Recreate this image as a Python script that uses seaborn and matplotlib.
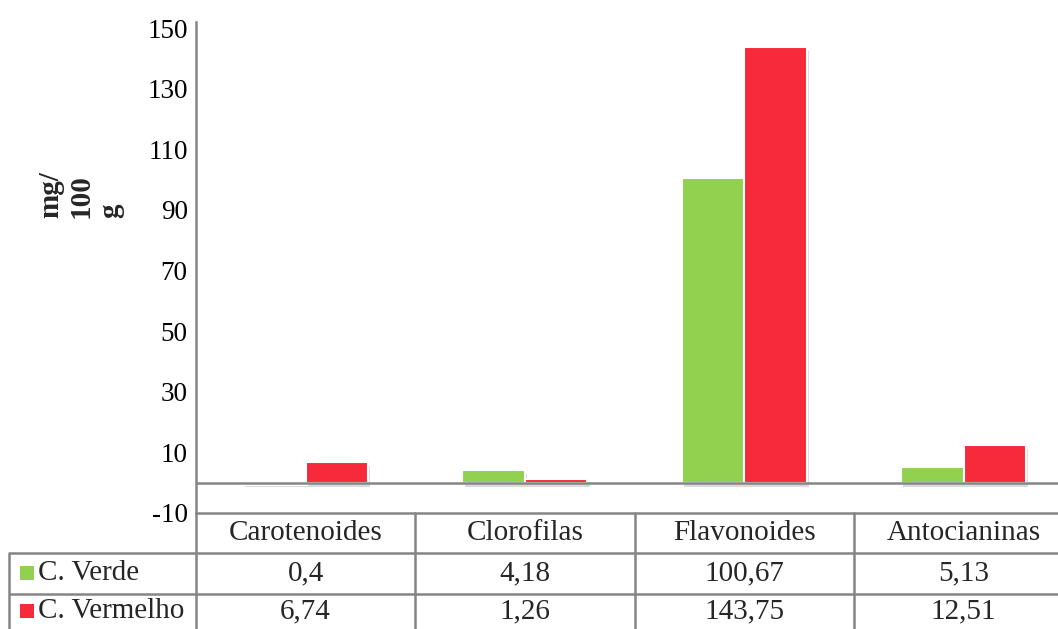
import matplotlib
matplotlib.use("Agg")
import matplotlib.pyplot as plt
import matplotlib.patheffects as pe
import pandas as pd
import seaborn as sns

# Teores medidos (mg/100 g) por composto e por cor do fruto
categories = ["Carotenoides", "Clorofilas", "Flavonoides", "Antocianinas"]
series = ["C. Verde", "C. Vermelho"]
verde = [0.4, 4.18, 100.67, 5.13]
vermelho = [6.74, 1.26, 143.75, 12.51]
y_ticks = [-10, 10, 30, 50, 70, 90, 110, 130, 150]
y_label = "mg/\n100\ng"

colors = ["#92D050", "#F62A3B"]
grid_gray = "#858585"

df = pd.DataFrame({
    "categoria": categories * 2,
    "serie": [series[0]] * len(categories) + [series[1]] * len(categories),
    "valor": verde + vermelho,
})

sns.set_theme(style="white")
plt.rcParams["font.family"] = ["Liberation Serif", "DejaVu Serif"]

W, H = 1058, 629
fig = plt.figure(figsize=(W / 100, H / 100), dpi=100)

# page layout in pixels
x0 = 196          # left edge of the plot / first data column
col_w = 219.3     # width of each category column
y_top, y_bot = 22, 513
row_h = [513, 553, 594, H]   # table row boundaries
lab_x = 9          # left edge of the row-label column

ax = fig.add_axes([x0 / W, 1 - y_bot / H, 4 * col_w / W, (y_bot - y_top) / H])
sns.barplot(
    data=df, x="categoria", y="valor", hue="serie",
    order=categories, hue_order=series, palette=colors,
    saturation=1, width=0.57, edgecolor="white", linewidth=1.5,
    errorbar=None, legend=False, ax=ax,
)
for p in ax.patches:
    p.set_path_effects([
        pe.SimplePatchShadow(offset=(1.5, -3), shadow_rgbFace="#9a9a9a", alpha=0.35),
        pe.Normal(),
    ])

ax.set_ylim(-10, 152)
ax.set_xlim(-0.5, 3.5)
ax.axhline(0, color=grid_gray, lw=1.8, zorder=3)
ax.set_yticks(y_ticks)
ax.set_yticklabels([str(t) for t in y_ticks], fontsize=19.5, color="black")
ax.tick_params(axis="y", length=0, pad=6)
ax.set_xticks([])
ax.set_xlabel("")
ax.set_ylabel("")
for side in ("top", "right"):
    ax.spines[side].set_visible(False)
for side in ("left", "bottom"):
    ax.spines[side].set_color(grid_gray)
    ax.spines[side].set_linewidth(1.8)

fig.text(81 / W, 1 - 195 / H, y_label, rotation=90, fontsize=21,
         fontweight="bold", ha="center", va="center",
         multialignment="left", linespacing=1.15)

# data table beneath the plot, drawn in pixel coordinates
tab = fig.add_axes([0, 0, 1, 1])
tab.set_xlim(0, W)
tab.set_ylim(H, 0)
tab.axis("off")

lw = 1.8
for y in row_h[1:3]:
    tab.plot([lab_x, W], [y, y], color=grid_gray, lw=lw, solid_capstyle="butt")
tab.plot([x0, x0], [row_h[0], H], color=grid_gray, lw=lw)
tab.plot([lab_x, lab_x], [row_h[1], H], color=grid_gray, lw=lw)
for k in range(1, len(categories)):
    xb = x0 + k * col_w
    tab.plot([xb, xb], [row_h[0], H], color=grid_gray, lw=lw)

for k, cat in enumerate(categories):
    xc = x0 + (k + 0.5) * col_w
    yc = (row_h[0] + row_h[1]) / 2
    tab.text(xc, yc, cat, fontsize=21, ha="center", va="center")

for r, (name, vals, col) in enumerate(zip(series, [verde, vermelho], colors)):
    yc = (row_h[r + 1] + row_h[r + 2]) / 2
    tab.scatter([26.5], [yc - 1], marker="s", s=95, color=col, linewidths=0)
    tab.text(38, yc, name, fontsize=21, ha="left", va="center")
    for k, v in enumerate(vals):
        xc = x0 + (k + 0.5) * col_w
        tab.text(xc, yc, str(v).replace(".", ","), fontsize=21,
                 ha="center", va="center")

fig.savefig("out.png", dpi=100)
